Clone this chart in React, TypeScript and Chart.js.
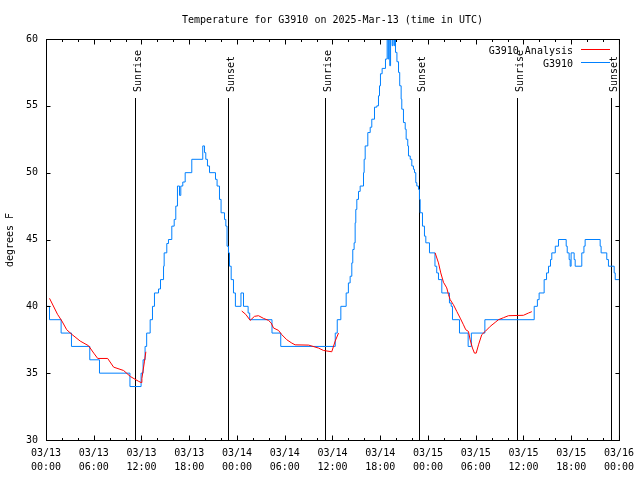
import { useEffect, useRef } from "react";
import { Chart, registerables } from "chart.js";

Chart.register(...registerables);

const TITLE = "Temperature for G3910 on 2025-Mar-13 (time in UTC)";
const Y_LABEL = "degrees F";
const SERIES_NAMES = ["G3910 Analysis", "G3910"];
const SERIES_COLORS = ["#ff0000", "#0080ff"];

const xTickDates = ["03/13", "03/13", "03/13", "03/13", "03/14", "03/14", "03/14", "03/14", "03/15", "03/15", "03/15", "03/15", "03/16"];
const xTickTimes = ["00:00", "06:00", "12:00", "18:00", "00:00", "06:00", "12:00", "18:00", "00:00", "06:00", "12:00", "18:00", "00:00"];

const sunHours = [11.16, 22.83, 35.12, 46.91, 59.21, 71.0];
const sunLabels = ["Sunrise", "Sunset", "Sunrise", "Sunset", "Sunrise", "Sunset"];

// Observations (hours since 03/13 00:00 UTC, value holds until next change)
const obsHours = [
  0, 0.44, 1.9, 3.2, 5.5, 6.72, 10.55, 11.95, 12.2, 12.45, 12.65, 13.09, 13.38, 13.63, 14.14, 14.39, 14.77, 14.85,
  15.18, 15.39, 15.81, 16.11, 16.31, 16.52, 16.78, 16.94, 17.19, 17.49, 18.32, 19.7, 19.92, 20.08, 20.29, 20.55,
  21.3, 21.5, 21.8, 22.0, 22.43, 22.6, 22.75, 22.93, 23.06, 23.27, 23.56, 23.8, 24.5, 24.82, 25.4, 25.6, 28.4, 29.5,
  36.35, 36.6, 37.05, 37.72, 38.0, 38.22, 38.43, 38.55, 38.72, 38.85, 38.93, 39.06, 39.27, 39.48, 39.9, 39.98, 40.11,
  40.44, 40.74, 40.94, 41.28, 41.57, 41.78, 41.91, 42.03, 42.24, 42.66, 42.87, 43.0, 43.08, 43.2, 43.3, 43.5, 43.6,
  43.75, 43.82, 43.92, 44.1, 44.3, 44.45, 44.63, 44.71, 44.92, 45.14, 45.26, 45.46, 45.55, 45.77, 45.97, 46.18, 46.31,
  46.47, 46.6, 46.81, 46.93, 47.02, 47.31, 47.56, 47.73, 48.19, 48.88, 49.1, 49.32, 49.74, 50.7, 50.92, 51.08, 51.96,
  53.05, 53.45, 55.15, 61.35, 61.75, 61.97, 62.6, 62.9, 63.15, 63.4, 63.56, 64.0, 64.4, 65.37, 65.5, 65.74, 65.87,
  65.99, 66.37, 66.5, 67.33, 67.6, 67.75, 69.64, 69.76, 70.47, 70.68, 71.4, 71.53, 72,
];
const obsTemps = [
  40, 39, 38, 37, 36, 35, 34, 35, 36, 37, 38, 39, 40, 41, 41.3, 42, 43, 44,
  44.7, 45, 46, 46.5, 47.5, 49, 48.3, 49, 49.3, 50, 51, 52, 51.5, 51, 50.5, 50,
  49.5, 49, 48, 47, 46.5, 46, 44.5, 44, 43, 42, 41, 40, 41, 40, 39.5, 39, 38, 37,
  38, 39, 40, 41, 41.75, 42.25, 43.25, 44.25, 44.75, 46.25, 47.25, 48, 48.6, 49, 50, 51, 52,
  53, 53.4, 54, 54.9, 55, 55.75, 56.5, 57.4, 57.8, 58.5, 61, 58.5, 61, 58, 61, 59.5, 61,
  59.5, 60.5, 59, 58.3, 57.5, 56.5, 55.5, 54.75, 53.75, 53.25, 52.5, 52, 51.25, 51, 50.5, 50.25, 50,
  49.25, 49, 48.75, 48, 47, 46, 45.25, 44.75, 44, 43, 42.5, 42, 41, 40.25, 40, 39, 38,
  37, 38, 39, 40, 40.5, 41, 42, 42.5, 43, 43.5, 44, 44.5, 45, 44.5, 44, 43.5, 43,
  44, 43.5, 43, 44, 44.5, 45, 44.5, 44, 43.5, 43, 42.5, 42, 42,
];

// Analysis (null = gap)
const anaHours = [
  0.44, 1.45, 2.0, 2.6, 3.25, 4.3, 5.35, 6.0, 6.5, 7.75, 8.5, 9.75, 10.6, 11.6, 11.95, 12.05, 12.38, 12.55,
  18,
  24.6, 25.1, 25.66, 26.2, 26.7, 27.33, 27.96, 28.3, 28.59, 29.22, 29.63, 30.26, 30.89, 31.31, 33.0, 34.24, 34.87,
  35.91, 36.34, 36.76,
  42,
  48.9, 49.32, 49.61, 49.95, 50.36, 50.58, 50.79, 51.2, 51.62, 52.05, 52.46, 52.75, 53.09, 53.3, 53.59, 53.84, 54.06,
  54.35, 54.76, 55.19, 55.82, 56.45, 56.86, 57.49, 58.12, 60.0, 60.63, 61.05,
];
const anaTemps = [
  40.6, 39.4, 38.9, 38.25, 37.9, 37.4, 37.05, 36.5, 36.1, 36.1, 35.45, 35.2, 34.75, 34.4, 34.3, 34.6, 35.9, 36.6,
  null,
  39.65, 39.4, 38.95, 39.25, 39.3, 39.1, 38.95, 38.75, 38.38, 38.2, 37.88, 37.5, 37.25, 37.12, 37.1, 36.88, 36.7,
  36.6, 37.4, 38.0,
  null,
  44.0, 43.25, 42.5, 41.8, 41.38, 40.88, 40.5, 40.12, 39.62, 39.12, 38.62, 38.25, 38.12, 37.5, 36.88, 36.5, 36.5,
  37.12, 37.88, 38.12, 38.5, 38.8, 39.0, 39.15, 39.3, 39.33, 39.5, 39.6,
];

const FONT_FAMILY = "'DejaVu Sans Mono', monospace";
const CTX_FONT = "10px 'DejaVu Sans Mono', monospace";

const overlay = {
  id: "overlay",
  beforeDatasetsDraw(chart: any) {
    const { ctx, chartArea: a, scales } = chart;
    const x = scales.x;
    ctx.save();
    ctx.strokeStyle = "#000";
    ctx.lineWidth = 1;
    ctx.beginPath();
    sunHours.forEach((h) => {
      const px = Math.round(x.getPixelForValue(h)) + 0.5;
      ctx.moveTo(px, a.bottom);
      ctx.lineTo(px, 98);
    });
    ctx.stroke();
    ctx.restore();
  },
  afterDraw(chart: any) {
    const { ctx, chartArea: a, scales } = chart;
    const x = scales.x;
    const y = scales.y;
    ctx.save();
    ctx.strokeStyle = "#000";
    ctx.lineWidth = 1;
    const L = a.left + 0.5, R = a.right + 0.5, T = a.top + 0.5, B = a.bottom + 0.5;
    ctx.strokeRect(L, T, R - L, B - T);
    ctx.beginPath();
    for (let h = 0; h <= 72; h += 2) {
      const px = Math.round(x.getPixelForValue(h)) + 0.5;
      const len = h % 6 === 0 ? 5 : 2.5;
      ctx.moveTo(px, B);
      ctx.lineTo(px, B - len);
      ctx.moveTo(px, T);
      ctx.lineTo(px, T + len);
    }
    for (let v = 30; v <= 60; v += 5) {
      const py = Math.round(y.getPixelForValue(v)) + 0.5;
      ctx.moveTo(L, py);
      ctx.lineTo(L + 4, py);
      ctx.moveTo(R, py);
      ctx.lineTo(R - 4, py);
    }
    ctx.stroke();

    ctx.fillStyle = "#000";
    ctx.font = CTX_FONT;
    ctx.textBaseline = "alphabetic";

    // title
    ctx.textAlign = "center";
    ctx.fillText(TITLE, (a.left + a.right) / 2, 23);

    // y label
    ctx.save();
    ctx.translate(13, 240);
    ctx.rotate(-Math.PI / 2);
    ctx.textAlign = "center";
    ctx.fillText(Y_LABEL, 0, 0);
    ctx.restore();

    // sunrise / sunset labels
    sunHours.forEach((h, i) => {
      const px = Math.round(x.getPixelForValue(h)) + 0.5;
      ctx.save();
      ctx.translate(px + 5, 92);
      ctx.rotate(-Math.PI / 2);
      ctx.textAlign = "left";
      ctx.fillText(sunLabels[i], 0, 0);
      ctx.restore();
    });

    // legend
    const rows = [49.5, 62.5];
    SERIES_NAMES.forEach((name, i) => {
      ctx.textAlign = "right";
      ctx.fillStyle = "#000";
      ctx.fillText(name, 573, rows[i] + 4);
      ctx.strokeStyle = SERIES_COLORS[i];
      ctx.beginPath();
      ctx.moveTo(581, rows[i]);
      ctx.lineTo(610, rows[i]);
      ctx.stroke();
    });
    ctx.restore();
  },
};

export default function App() {
  const ref = useRef<HTMLCanvasElement | null>(null);
  useEffect(() => {
    if (!ref.current) return;
    const anaData = anaHours.map((h, i) => ({ x: h, y: anaTemps[i] }));
    const obsData = obsHours.map((h, i) => ({ x: h, y: obsTemps[i] }));
    const tickFont = { family: FONT_FAMILY, size: 10, lineHeight: 1.4 };
    const chart = new Chart(ref.current, {
      type: "line",
      data: {
        datasets: [
          {
            label: SERIES_NAMES[0],
            data: anaData as any,
            borderColor: SERIES_COLORS[0],
            borderWidth: 1,
            pointRadius: 0,
            spanGaps: false,
            fill: false,
            tension: 0,
            clip: 0,
          },
          {
            label: SERIES_NAMES[1],
            data: obsData as any,
            borderColor: SERIES_COLORS[1],
            borderWidth: 1,
            pointRadius: 0,
            stepped: true,
            fill: false,
            clip: 0,
          },
        ],
      },
      options: {
        animation: false,
        responsive: false,
        maintainAspectRatio: false,
        devicePixelRatio: 1,
        layout: { padding: { top: 39, right: 20, left: 0, bottom: 0 } },
        plugins: {
          legend: { display: false },
          title: { display: false },
          tooltip: { enabled: false },
        },
        scales: {
          x: {
            type: "linear",
            min: 0,
            max: 72,
            grid: { display: false, drawTicks: false },
            border: { display: false },
            ticks: {
              stepSize: 6,
              autoSkip: false,
              maxRotation: 0,
              minRotation: 0,
              color: "#000",
              font: tickFont,
              padding: 6,
              callback: (value: any) => {
                const i = Math.round(Number(value) / 6);
                return [xTickDates[i], xTickTimes[i]];
              },
            },
            afterFit: (s: any) => {
              s.height = 40;
            },
          },
          y: {
            type: "linear",
            min: 30,
            max: 60,
            grid: { display: false, drawTicks: false },
            border: { display: false },
            ticks: {
              stepSize: 5,
              color: "#000",
              font: { family: FONT_FAMILY, size: 10 },
              padding: 8,
            },
            afterFit: (s: any) => {
              s.width = 46;
            },
          },
        },
      },
      plugins: [overlay],
    });
    return () => chart.destroy();
  }, []);
  return (
    <div style={{ position: "absolute", left: 0, top: 0, width: 640, height: 480, background: "#fff" }}>
      <canvas ref={ref} width={640} height={480} style={{ display: "block", width: 640, height: 480 }} />
    </div>
  );
}
